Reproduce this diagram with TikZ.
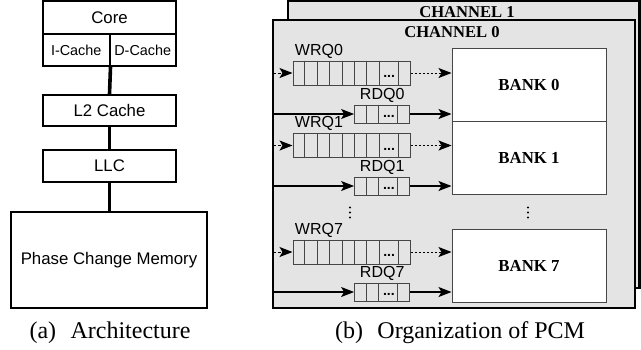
\documentclass[tikz,border=0pt]{standalone}
\usepackage{fontspec}
\setmainfont{Liberation Serif}
\setsansfont{Liberation Sans}
\usetikzlibrary{arrows.meta}
\definecolor{chgray}{RGB}{228,228,228}
\definecolor{qgray}{RGB}{70,70,70}

\tikzset{
  archbox/.style={draw, line width=1pt, inner sep=0pt, font=\sffamily\fontsize{8.4}{9}\selectfont},
  cachebox/.style={archbox, font=\sffamily\fontsize{7.2}{8}\selectfont},
  archlink/.style={line width=1.8pt},
  chanbox/.style={draw, fill=chgray, line width=1.1pt},
  chantitle/.style={font=\bfseries\fontsize{8.3}{9}\selectfont, inner sep=0pt},
  bankbox/.style={draw=qgray, fill=white, line width=0.5pt, inner sep=0pt,
    minimum width=77pt, minimum height=36.5pt, font=\bfseries\fontsize{8.4}{9}\selectfont},
  wrqbox/.style={draw=qgray, line width=0.5pt, inner sep=0pt, minimum width=58.5pt, minimum height=12pt},
  rdqbox/.style={draw=qgray, line width=0.5pt, inner sep=0pt, minimum width=27.6pt, minimum height=9pt},
  qline/.style={draw=qgray, line width=0.5pt},
  qlabel/.style={font=\sffamily\fontsize{8}{9}\selectfont, inner sep=1pt},
  qdots/.style={font=\sffamily\bfseries\fontsize{7}{7}\selectfont, inner sep=0pt},
  tip/.style={-{Stealth[length=6.5pt,width=5pt,inset=1.5pt]}},
  wrin/.style={tip, dash pattern=on 1.5pt off 1pt, line width=0.5pt},
  wrout/.style={tip, dash pattern=on 1pt off 1pt, line width=0.5pt},
  rdlink/.style={tip, line width=0.6pt},
  capt/.style={font=\fontsize{12}{14}\selectfont, inner sep=0pt}
}

\begin{document}
\begin{tikzpicture}[x=0.5pt, y=-0.5pt]
  \useasboundingbox (0,0) rectangle (641,349);

  % (a) architecture
  \node[archbox, minimum width=66.5pt, minimum height=16.5pt] (core) at (109.5,17.5) {Core};
  \node[cachebox, minimum width=33.25pt, minimum height=16pt] (icache) at (76.25,50) {I-Cache};
  \node[cachebox, minimum width=33.25pt, minimum height=16pt] (dcache) at (142.75,50) {D-Cache};
  \node[archbox, minimum width=66.5pt, minimum height=15.5pt] (l2) at (109.5,110.5) {L2 Cache};
  \node[archbox, minimum width=66.5pt, minimum height=16pt] (llc) at (109.5,166) {LLC};
  \node[archbox, minimum width=98pt, minimum height=48pt] (pcm) at (109,260) {Phase Change Memory};
  \draw[archlink] (icache.south east) -- (l2.north);
  \draw[archlink] (l2) -- (llc);
  \draw[archlink] (llc.south) -- (llc.south |- pcm.north);
  \node[capt] (capa) at (110,333) {(a)\hspace{0.6em}Architecture};

  % (b) organization
  \draw[chanbox] (288,1) rectangle (639.5,288);
  \node[chantitle] (ch1) at (467,12) {CHANNEL 1};
  \draw[chanbox, line width=1.3pt] (273,20) rectangle (635,308);
  \node[chantitle] (ch0) at (452,32) {CHANNEL 0};

  \foreach \q/\wy/\ry/\by in {0/73/114/84.5, 1/145.5/186/157.5, 7/252/292/265.5} {
    \node[bankbox] (bank\q) at (529,\by) {BANK \q};
    \node[wrqbox] (wrq\q) at (351.5,\wy) {};
    \node[rdqbox] (rdq\q) at (382.2,\ry) {};
    \foreach \k in {1,...,7}
      \draw[qline] ([xshift=\k*6.2pt]wrq\q.north west) -- ([xshift=\k*6.2pt]wrq\q.south west);
    \draw[qline] ([xshift=-6.2pt]wrq\q.north east) -- ([xshift=-6.2pt]wrq\q.south east);
    \foreach \k in {1,2}
      \draw[qline] ([xshift=\k*6.2pt]rdq\q.north west) -- ([xshift=\k*6.2pt]rdq\q.south west);
    \draw[qline] ([xshift=-6.2pt]rdq\q.north east) -- ([xshift=-6.2pt]rdq\q.south east);
    \node[qdots] at ([xshift=-10.7pt, yshift=-1.8pt]wrq\q.east) {...};
    \node[qdots] at ([xshift=-10.7pt, yshift=-1.2pt]rdq\q.east) {...};
    \node[qlabel, anchor=south west] (wl\q) at (wrq\q.north west) {WRQ\q};
    \node[qlabel, anchor=south] (rl\q) at (rdq\q.north) {RDQ\q};
    \coordinate (win\q) at (273,\wy);
    \coordinate (rin\q) at (273,\ry);
    \draw[wrin] (win\q) -- (wrq\q);
    \draw[rdlink] (rin\q) -- (rdq\q);
    \draw[wrout] (wrq\q.east) -- (wrq\q.east -| bank\q.west);
    \draw[rdlink] (rdq\q.east) -- (rdq\q.east -| bank\q.west);
  }
  % vertical dots
  \foreach \x in {350,528}
    \foreach \d in {-5,0,5}
      \fill (\x,212.5+\d) circle (0.6pt);
  \node[capt] (capb) at (460,333) {(b)\hspace{0.6em}Organization of PCM};
\end{tikzpicture}
\end{document}
